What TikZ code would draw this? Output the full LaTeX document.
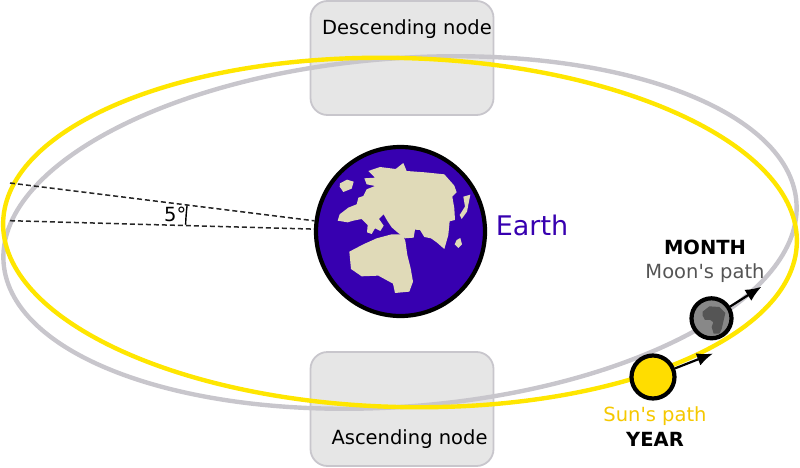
\documentclass[tikz,border=0pt]{standalone}
\usepackage{fontspec}
\setmainfont{DejaVu Sans}
\usetikzlibrary{arrows.meta}

\definecolor{boxfill}{HTML}{E6E6E6}
\definecolor{boxline}{HTML}{C8C6CC}
\definecolor{sunpath}{HTML}{FFE600}
\definecolor{moonpath}{HTML}{C8C6CC}
\definecolor{earthblue}{HTML}{3700B0}
\definecolor{land}{HTML}{E0DAB8}
\definecolor{sunfill}{HTML}{FFDD00}
\definecolor{suntext}{HTML}{F5C800}
\definecolor{moonfill}{HTML}{888888}
\definecolor{moonspot}{HTML}{555555}
\definecolor{moontext}{HTML}{555555}

\begin{document}
\begin{tikzpicture}[x=1pt, y=1pt, line join=round,
	nodebox/.style={draw=boxline, fill=boxfill, line width=1.8pt, rounded corners=17pt, minimum width=183pt, minimum height=114pt, inner sep=0pt},
	txt/.style={font=\fontsize{19.5}{22}\selectfont, inner sep=0pt, anchor=base},
	orbit/.style={line width=4.4pt},
	guide/.style={line width=1.5pt, black!85, dash pattern=on 5pt off 3pt},
	body/.style={draw=black, line width=4.2pt, shape=circle, inner sep=0pt},
	motion/.style={-{Latex[length=16pt,width=13pt]}, line width=2.2pt}]

	\useasboundingbox (0,0) rectangle (800,467);

	% node boxes
	\node[nodebox] (desc) at (402,409) {};
	\node[nodebox] (asc) at (402,58) {};
	\node[txt] (desctext) at (407,432.8) {Descending node};
	\node[txt] (asctext) at (409.5,22.1) {Ascending node};

	% orbits
	\draw[orbit, moonpath, rotate around={4.4:(400,234.5)}] (400,234.5) ellipse [x radius=397.6pt, y radius=174.1pt];
	\draw[orbit, sunpath, rotate around={-1.5:(400,234.5)}] (400,234.5) ellipse [x radius=397pt, y radius=174.5pt];

	% tilt
	\coordinate (tiltend) at (10,284);
	\coordinate (flatend) at (10,246.3);
	\coordinate (vertex) at (400.5,235.5);
	\draw[line width=1.4pt] (vertex) ++(172.84:215) arc[start angle=172.84, end angle=178.2, radius=215];
	\node[txt, anchor=base west] (tilt) at (164,246) {5°};

	% earth
	\node[body, fill=earthblue, minimum size=169pt] (earth) at (vertex) {};
	\draw[guide] (tiltend) -- (earth);
	\draw[guide] (flatend) -- (earth);
	\begin{scope}[shift={(325,312)}, x=0.3333pt, y=-0.3333pt, fill=land]
		\fill (130,48) -- (165,36) -- (212,42) -- (235,24) -- (245,48) -- (300,52) -- (358,58) -- (388,92) -- (395,112) -- (382,125) -- (388,160) -- (390,195) -- (374,199) -- (370,240) -- (358,282) -- (335,262) -- (318,250) -- (298,246) -- (285,225) -- (270,224) -- (266,248) -- (240,250) -- (215,230) -- (200,217) -- (186,196) -- (176,178) -- (162,192) -- (176,212) -- (166,228) -- (150,220) -- (140,237) -- (126,232) -- (128,210) -- (110,192) -- (85,197) -- (68,202) -- (38,197) -- (44,178) -- (70,158) -- (95,148) -- (100,128) -- (115,123) -- (125,103) -- (150,93) -- (125,88) -- (118,70) -- (150,68) -- cycle;
		\fill (45,85) -- (66,74) -- (86,80) -- (80,101) -- (55,111) -- (44,95) -- cycle;
		\fill (415,125) -- (436,119) -- (426,170) -- (410,192) -- (404,180) -- (420,155) -- cycle;
		\fill (395,255) -- (406,249) -- (411,268) -- (400,279) -- (389,268) -- cycle;
		\fill (73,290) -- (115,268) -- (155,250) -- (200,238) -- (233,238) -- (241,258) -- (247,300) -- (257,340) -- (264,380) -- (253,410) -- (210,414) -- (204,386) -- (160,362) -- (110,364) -- (78,342) -- cycle;
	\end{scope}
	\node[txt, text=earthblue, font=\fontsize{27}{30}\selectfont] (earthtext) at (532,231.3) {Earth};

	% moon
	\node[body, fill=moonfill, minimum size=40pt] (moon) at (711.5,148.7) {};
	\begin{scope}[shift={(680,182)}, x=0.3333pt, y=-0.3333pt]
		\fill[moonspot] (68,80) -- (88,64) -- (118,66) -- (136,84) -- (131,106) -- (125,132) -- (118,146) -- (101,146) -- (95,126) -- (100,112) -- (91,105) -- (75,105) -- (68,92) -- cycle;
	\end{scope}
	\coordinate (moonhead) at (761.5,180.3);
	\draw[motion] (moon) -- (moonhead);
	\node[txt, font=\fontsize{19.5}{22}\selectfont\bfseries] (month) at (705,212.8) {MONTH};
	\node[txt, text=moontext] (moontext) at (705,188.5) {Moon\textquotesingle s path};

	% sun
	\node[body, fill=sunfill, minimum size=43pt] (sun) at (653,90) {};
	\coordinate (sunhead) at (713,113.5);
	\draw[motion] (sun) -- (sunhead);
	\node[txt, text=suntext] (suntext) at (655,45.5) {Sun\textquotesingle s path};
	\node[txt, font=\fontsize{19.5}{22}\selectfont\bfseries] (year) at (655,21) {YEAR};

\end{tikzpicture}
\end{document}
